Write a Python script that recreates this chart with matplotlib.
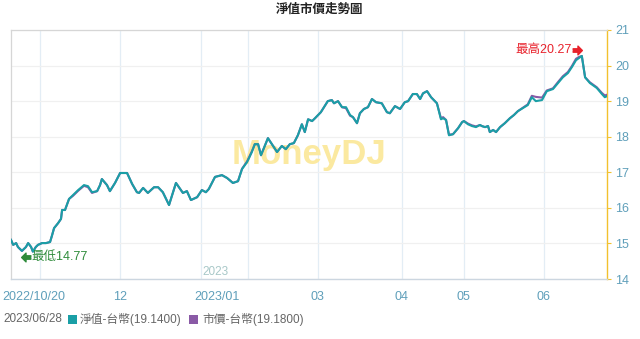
import matplotlib

matplotlib.use("Agg")
import matplotlib.pyplot as plt
from matplotlib.patches import Rectangle
from matplotlib.transforms import ScaledTranslation
import numpy as np

plt.rcParams["font.family"] = ["Liberation Sans", "Noto Sans CJK TC", "DejaVu Sans"]

TITLE = "淨值市價走勢圖"
LAST_DATE = "2023/06/28"

# position in trading days, 0 = 2022/10/20
day_pos = [
    0, 0.6, 1.4, 1.9, 3.0, 4.1, 4.7, 5.5, 6.0, 6.8, 7.4, 8.5, 9.6, 10.7, 11.2, 11.8,
    12.9, 13.7, 14.0, 14.8, 15.9, 17.0, 18.4, 20.0, 21.1, 22.2, 23.6, 24.4, 24.9, 26.3,
    27.1, 28.5, 29.9, 31.8, 33.2, 34.5, 35.1, 36.2, 37.5, 39.2, 40.3, 41.6, 43.3, 45.2,
    47.1, 48.2, 49.3, 51.0, 52.3, 53.4, 54.2, 55.9, 57.8, 59.2, 60.8, 62.2, 63.3, 64.7,
    66.0, 66.8, 67.7, 68.5, 70.4, 71.8, 72.9, 74.2, 75.3, 76.4, 77.5, 78.6, 79.7, 80.5,
    81.4, 82.5, 83.3, 84.9, 86.8, 87.9, 88.5, 89.6, 90.7, 91.8, 92.9, 93.7, 94.8, 95.6,
    96.7, 97.8, 98.9, 100.0, 101.6, 103.0, 103.8, 105.2, 106.6, 107.9, 108.8, 110.1,
    111.2, 112.1, 112.9, 114.0, 115.1, 116.7, 117.8, 118.4, 119.2, 120.0, 121.1, 122.5,
    123.6, 124.1, 125.2, 126.3, 127.4, 128.5, 129.0, 129.9, 130.7, 131.2, 132.1, 132.9,
    134.0, 135.3, 136.7, 137.8, 138.9, 141.6, 142.7, 143.8, 145.5, 146.8, 148.5, 149.9,
    151.2, 152.6, 153.7, 154.8, 155.6, 156.4, 157.3, 158.6, 160.5, 161.9, 162.7, 163.3,
]

nav = [
    15.10, 14.96, 15.01, 14.90, 14.79, 14.90, 15.01, 14.90, 14.77, 14.90, 14.96, 15.01,
    15.01, 15.04, 15.21, 15.43, 15.57, 15.69, 15.94, 15.94, 16.25, 16.36, 16.50, 16.64,
    16.61, 16.44, 16.47, 16.64, 16.81, 16.64, 16.47, 16.70, 16.98, 16.98, 16.67, 16.44,
    16.42, 16.56, 16.42, 16.58, 16.58, 16.44, 16.08, 16.70, 16.42, 16.47, 16.22, 16.30,
    16.50, 16.44, 16.53, 16.87, 16.92, 16.84, 16.70, 16.75, 17.09, 17.29, 17.57, 17.79,
    17.79, 17.48, 17.96, 17.74, 17.57, 17.74, 17.65, 17.79, 17.82, 18.04, 18.35, 18.13,
    18.49, 18.44, 18.52, 18.69, 19.00, 19.03, 18.94, 19.00, 18.83, 18.83, 18.61, 18.55,
    18.38, 18.66, 18.78, 18.83, 19.06, 18.97, 18.94, 18.69, 18.66, 18.86, 18.78, 18.97,
    19.00, 19.20, 19.20, 19.06, 19.22, 19.28, 19.11, 18.94, 18.49, 18.52, 18.47, 18.04,
    18.07, 18.24, 18.41, 18.44, 18.35, 18.30, 18.27, 18.33, 18.30, 18.27, 18.30, 18.13,
    18.19, 18.13, 18.27, 18.38, 18.52, 18.61, 18.72, 18.89, 19.11, 19.00, 19.03, 19.28,
    19.34, 19.51, 19.67, 19.79, 19.96, 20.15, 20.21, 20.27, 19.67, 19.51, 19.37, 19.20,
    19.11, 19.14,
]

price = [
    15.10, 14.96, 15.01, 14.90, 14.79, 14.90, 15.01, 14.90, 14.77, 14.90, 14.96, 15.01,
    15.01, 15.04, 15.21, 15.43, 15.57, 15.69, 15.94, 15.94, 16.25, 16.34, 16.48, 16.62,
    16.58, 16.42, 16.47, 16.64, 16.81, 16.64, 16.47, 16.70, 16.98, 16.98, 16.67, 16.44,
    16.42, 16.56, 16.42, 16.58, 16.58, 16.44, 16.08, 16.70, 16.42, 16.47, 16.22, 16.30,
    16.50, 16.44, 16.53, 16.87, 16.92, 16.84, 16.70, 16.75, 17.10, 17.31, 17.59, 17.79,
    17.79, 17.48, 17.96, 17.74, 17.57, 17.74, 17.65, 17.79, 17.82, 18.04, 18.35, 18.13,
    18.49, 18.44, 18.52, 18.69, 19.00, 19.03, 18.94, 19.00, 18.83, 18.80, 18.59, 18.55,
    18.38, 18.66, 18.78, 18.83, 19.06, 18.97, 18.94, 18.69, 18.66, 18.86, 18.78, 18.97,
    19.00, 19.20, 19.20, 19.06, 19.22, 19.28, 19.11, 18.94, 18.52, 18.55, 18.47, 18.06,
    18.07, 18.24, 18.41, 18.44, 18.37, 18.32, 18.29, 18.33, 18.30, 18.27, 18.30, 18.13,
    18.19, 18.13, 18.27, 18.38, 18.52, 18.61, 18.72, 18.91, 19.15, 19.12, 19.10, 19.30,
    19.36, 19.54, 19.70, 19.82, 19.99, 20.19, 20.24, 20.27, 19.67, 19.53, 19.39, 19.23,
    19.16, 19.18,
]

tick_pos = [0, 30, 52, 84, 107, 124, 146]
tick_labels = ["2022/10/20", "12", "2023/01", "03", "04", "05", "06"]
grid_pos = [8, 30, 52, 65, 84, 107, 124, 146]
y_ticks = [14, 15, 16, 17, 18, 19, 20, 21]

NAV_COLOR = "#1a9fa6"
PRICE_COLOR = "#8a5aa6"
AXIS_TEXT = "#5f9fba"

assert len(day_pos) == len(nav) == len(price)

W, H = 640, 339
fig = plt.figure(figsize=(W / 100, H / 100), dpi=100, facecolor="white")
ax = fig.add_axes([11 / W, 1 - 279 / H, 596 / W, 249 / H])

ax.set_xlim(0, 163.3)
ax.set_ylim(14, 21)

# grid
for g in grid_pos:
    ax.axvline(g, color="#e3edf5", linewidth=0.9, zorder=0)
for v in y_ticks:
    ax.axhline(v, color="#f0f0f0", linewidth=0.9, zorder=0)

# watermark
ax.text(0.5, 0.5, "MoneyDJ", transform=ax.transAxes, ha="center", va="center",
        fontsize=25, fontweight="bold", color="#fbe9a0", zorder=1)

ax.plot(day_pos, price, color=PRICE_COLOR, linewidth=1.5, zorder=3)
ax.plot(day_pos, nav, color=NAV_COLOR, linewidth=1.5, zorder=4)

# spines
for side in ("top", "left"):
    ax.spines[side].set_color("#d6d6d6")
    ax.spines[side].set_linewidth(0.9)
ax.spines["bottom"].set_color("#ccd6e0")
ax.spines["bottom"].set_linewidth(1.0)
ax.spines["right"].set_color("#f2c12e")
ax.spines["right"].set_linewidth(1.0)

ax.yaxis.tick_right()
ax.set_yticks(y_ticks)
ax.set_yticklabels([str(v) for v in y_ticks])
ax.tick_params(axis="y", which="both", length=3, color="#f2c12e", pad=3,
               labelsize=9, labelcolor=AXIS_TEXT)
ax.tick_params(axis="y", left=False)

ax.set_xticks(tick_pos)
ax.set_xticklabels(tick_labels)
ax.tick_params(axis="x", length=0, pad=9, labelsize=9, labelcolor=AXIS_TEXT)
labels = ax.get_xticklabels()
labels[0].set_ha("left")
labels[0].set_transform(labels[0].get_transform() + ScaledTranslation(-9 / 100, 0, fig.dpi_scale_trans))
labels[2].set_transform(labels[2].get_transform() + ScaledTranslation(16 / 100, 0, fig.dpi_scale_trans))

ax.text(56, 14.2, "2023", ha="center", va="center", fontsize=8.5, color="#a8c8c8")

# max / min markers
arrow_r = [(-1, -0.35), (0.1, -0.35), (0.1, -0.9), (1, 0), (0.1, 0.9), (0.1, 0.35), (-1, 0.35)]
arrow_l = [(-x, y) for x, y in arrow_r]

i_max = int(np.argmax(nav))
i_min = int(np.argmin(nav))
x_max, y_max = day_pos[i_max], nav[i_max]
x_min, y_min = day_pos[i_min], nav[i_min]

ax.annotate("", xy=(x_max, y_max), xytext=(-3.6, 4.3), textcoords="offset points")
ax.plot([x_max], [y_max], marker=arrow_r, markersize=7, color="#e8212b", linestyle="none",
        transform=ax.transData + ScaledTranslation(-5 / 100, 6 / 100, fig.dpi_scale_trans), zorder=5)
ax.annotate(f"最高{y_max:.2f}", xy=(x_max, y_max), xytext=(-7.5, 4.3), textcoords="offset points",
            ha="right", va="center", fontsize=9, color="#e8212b", zorder=5)

ax.plot([x_min], [y_min], marker=arrow_l, markersize=7, color="#2e8b3a", linestyle="none",
        transform=ax.transData + ScaledTranslation(-7 / 100, -5 / 100, fig.dpi_scale_trans), zorder=5)
ax.annotate(f"最低{y_min:.2f}", xy=(x_min, y_min), xytext=(-1, -3.6), textcoords="offset points",
            ha="left", va="center", fontsize=9, color="#2e8b3a", zorder=5)

# title
fig.text(0.5, 1 - 10 / H, TITLE, ha="center", va="center", fontsize=9, fontweight="bold", color="#222222")

# legend row
ly = 1 - 319 / H
fig.text(3 / W, ly, LAST_DATE, ha="left", va="center", fontsize=8.5, color="#666666")
fig.patches.append(Rectangle((68 / W, ly - 4.5 / H), 9 / W, 9 / H, transform=fig.transFigure,
                             facecolor=NAV_COLOR, edgecolor="none"))
fig.text(80 / W, ly, f"淨值-台幣({nav[-1]:.4f})", ha="left", va="center", fontsize=8.5, color="#666666")
fig.patches.append(Rectangle((189 / W, ly - 4.5 / H), 9 / W, 9 / H, transform=fig.transFigure,
                             facecolor=PRICE_COLOR, edgecolor="none"))
fig.text(202 / W, ly, f"市價-台幣({price[-1]:.4f})", ha="left", va="center", fontsize=8.5, color="#666666")

fig.savefig("out.png", dpi=100)
